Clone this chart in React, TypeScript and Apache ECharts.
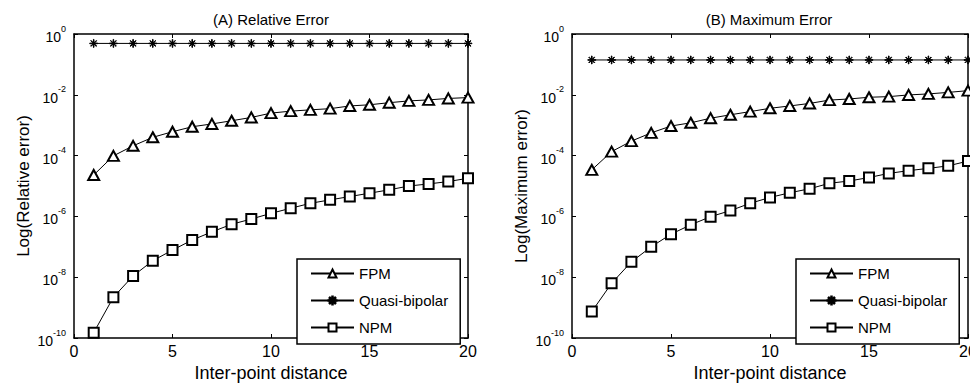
import React, { useEffect, useRef } from 'react';
import * as echarts from 'echarts';

const distances = [1, 2, 3, 4, 5, 6, 7, 8, 9, 10, 11, 12, 13, 14, 15, 16, 17, 18, 19, 20];

const relQuasi = [0.49, 0.49, 0.49, 0.49, 0.49, 0.49, 0.49, 0.49, 0.49, 0.49, 0.49, 0.49, 0.49, 0.49, 0.49, 0.49, 0.49, 0.49, 0.49, 0.49];
const relFPM = [2.3e-5, 9.8e-5, 2.1e-4, 4.0e-4, 6.1e-4, 8.9e-4, 1.1e-3, 1.4e-3, 1.8e-3, 2.5e-3, 2.9e-3, 3.2e-3, 3.5e-3, 4.3e-3, 4.7e-3, 5.5e-3, 6.3e-3, 6.8e-3, 7.6e-3, 8.1e-3];
const relNPM = [1.5e-10, 2.2e-9, 1.1e-8, 3.5e-8, 7.8e-8, 1.67e-7, 3.1e-7, 5.5e-7, 8.2e-7, 1.26e-6, 1.85e-6, 2.7e-6, 3.5e-6, 4.5e-6, 5.8e-6, 7.5e-6, 1.0e-5, 1.17e-5, 1.4e-5, 1.8e-5];

const maxQuasi = [0.14, 0.14, 0.14, 0.14, 0.14, 0.14, 0.14, 0.14, 0.14, 0.14, 0.14, 0.14, 0.14, 0.14, 0.14, 0.14, 0.14, 0.14, 0.14, 0.14];
const maxFPM = [3.4e-5, 1.35e-4, 3.0e-4, 5.6e-4, 9.4e-4, 1.2e-3, 1.7e-3, 2.2e-3, 2.8e-3, 3.6e-3, 4.3e-3, 5.2e-3, 6.7e-3, 7.3e-3, 8.3e-3, 8.7e-3, 9.9e-3, 1.07e-2, 1.2e-2, 1.37e-2];
const maxNPM = [7.4e-10, 6.3e-9, 3.2e-8, 1.0e-7, 2.6e-7, 5.3e-7, 9.8e-7, 1.55e-6, 2.7e-6, 4.2e-6, 6.0e-6, 8.1e-6, 1.23e-5, 1.46e-5, 1.9e-5, 2.6e-5, 3.2e-5, 3.8e-5, 4.6e-5, 6.6e-5];

const seriesNames = ['FPM', 'Quasi-bipolar', 'NPM'];
const panelTitles = ['(A) Relative Error', '(B) Maximum Error'];
const yAxisNames = ['Log(Relative error)', 'Log(Maximum error)'];
const xAxisName = 'Inter-point distance';

const FONT = '"Liberation Sans", Arial, Helvetica, sans-serif';
const ASTERISK =
  'path://M0 9.3L20 9.3L20 10.7L0 10.7Z M9.3 0L10.7 0L10.7 20L9.3 20Z M3.5 2.5L17.5 16.5L16.5 17.5L2.5 3.5Z M16.5 2.5L17.5 3.5L3.5 17.5L2.5 16.5Z';

const pairs = (ys: number[]) => distances.map((x, i) => [x, ys[i]]);

export default function App() {
  const ref = useRef<HTMLDivElement>(null);
  useEffect(() => {
    document.body.style.margin = '0';
    if (!ref.current) return;
    const chart = echarts.init(ref.current, null, { renderer: 'svg' });

    const grids = [
      { left: 74, top: 34, width: 394, height: 304, outerBoundsMode: 'none', containLabel: false },
      { left: 572, top: 34, width: 396, height: 304, outerBoundsMode: 'none', containLabel: false },
    ];

    const axisLine = { show: true, onZero: false, lineStyle: { color: '#000', width: 1.5 } };
    const axisTick = { show: true, inside: true, length: 4, lineStyle: { color: '#000', width: 1 } };

    const xAxis: any[] = [];
    const yAxis: any[] = [];
    [0, 1].forEach((g) => {
      xAxis.push({
        gridIndex: g,
        type: 'value',
        min: 0,
        max: 20,
        interval: 5,
        position: 'bottom',
        axisLine,
        axisTick,
        splitLine: { show: false },
        axisLabel: { color: '#000', fontSize: 16, fontFamily: FONT, margin: 5 },
        name: xAxisName,
        nameLocation: 'middle',
        nameGap: 25,
        nameTextStyle: { color: '#000', fontSize: 18, fontFamily: FONT },
      });
      xAxis.push({
        gridIndex: g,
        type: 'value',
        min: 0,
        max: 20,
        interval: 5,
        position: 'top',
        axisLine,
        axisTick,
        splitLine: { show: false },
        axisLabel: { show: false },
      });
      yAxis.push({
        gridIndex: g,
        type: 'log',
        logBase: 10,
        min: 1e-10,
        max: 1,
        interval: 2,
        splitNumber: 5,
        position: 'left',
        axisLine,
        axisTick,
        splitLine: { show: false },
        minorTick: { show: false },
        axisLabel: {
          margin: 8,
          formatter: (v: number) => {
            const e = Math.round(Math.log10(v));
            return `{b|10}{s|${e}}`;
          },
          rich: {
            b: { fontSize: 14, fontFamily: FONT, color: '#000', verticalAlign: 'bottom', lineHeight: 20 },
            s: { fontSize: 9, fontFamily: FONT, color: '#000', verticalAlign: 'top', lineHeight: 12 },
          },
        },
        name: yAxisNames[g],
        nameLocation: 'middle',
        nameGap: 42,
        nameTextStyle: { color: '#000', fontSize: 17, fontFamily: FONT },
      });
      yAxis.push({
        gridIndex: g,
        type: 'log',
        logBase: 10,
        min: 1e-10,
        max: 1,
        interval: 2,
        splitNumber: 5,
        position: 'right',
        axisLine,
        axisTick,
        splitLine: { show: false },
        minorTick: { show: false },
        axisLabel: { show: false },
      });
    });

    const mk = (name: string, data: number[], g: number, symbol: string, size: any) => ({
      type: 'line',
      name,
      xAxisIndex: g * 2,
      yAxisIndex: g * 2,
      data: pairs(data),
      symbol,
      symbolSize: size,
      showSymbol: true,
      lineStyle: { color: '#000', width: 1 },
      itemStyle: { color: '#000', borderColor: '#000', borderWidth: 1 },
      emphasis: { disabled: true },
    });

    const series = [
      mk(seriesNames[0], relFPM, 0, 'emptyTriangle', [11, 10]),
      mk(seriesNames[1], relQuasi, 0, ASTERISK, 8),
      mk(seriesNames[2], relNPM, 0, 'emptyRect', 10),
      mk(seriesNames[0], maxFPM, 1, 'emptyTriangle', [11, 10]),
      mk(seriesNames[1], maxQuasi, 1, ASTERISK, 8),
      mk(seriesNames[2], maxNPM, 1, 'emptyRect', 10),
    ];

    const legendBase = {
      orient: 'vertical',
      top: 259,
      data: seriesNames,
      itemWidth: 43,
      itemHeight: 10,
      itemGap: 12,
      padding: [7, 12, 9, 13],
      borderColor: '#000',
      borderWidth: 1.5,
      backgroundColor: '#fff',
      selectedMode: false,
      textStyle: { fontSize: 15, color: '#000', fontFamily: FONT },
    };

    chart.setOption({
      animation: false,
      backgroundColor: '#fff',
      grid: grids,
      xAxis,
      yAxis,
      series,
      legend: [
        { ...legendBase, left: 297 },
        { ...legendBase, left: 796 },
      ],
      graphic: [
        {
          type: 'text',
          x: 271,
          y: 19,
          style: { text: panelTitles[0], fontSize: 15, fontFamily: FONT, fill: '#000', align: 'center', verticalAlign: 'middle' },
        },
        {
          type: 'text',
          x: 769,
          y: 19,
          style: { text: panelTitles[1], fontSize: 15, fontFamily: FONT, fill: '#000', align: 'center', verticalAlign: 'middle' },
        },
      ],
    });

    return () => chart.dispose();
  }, []);

  return <div ref={ref} style={{ width: 970, height: 387 }} />;
}
